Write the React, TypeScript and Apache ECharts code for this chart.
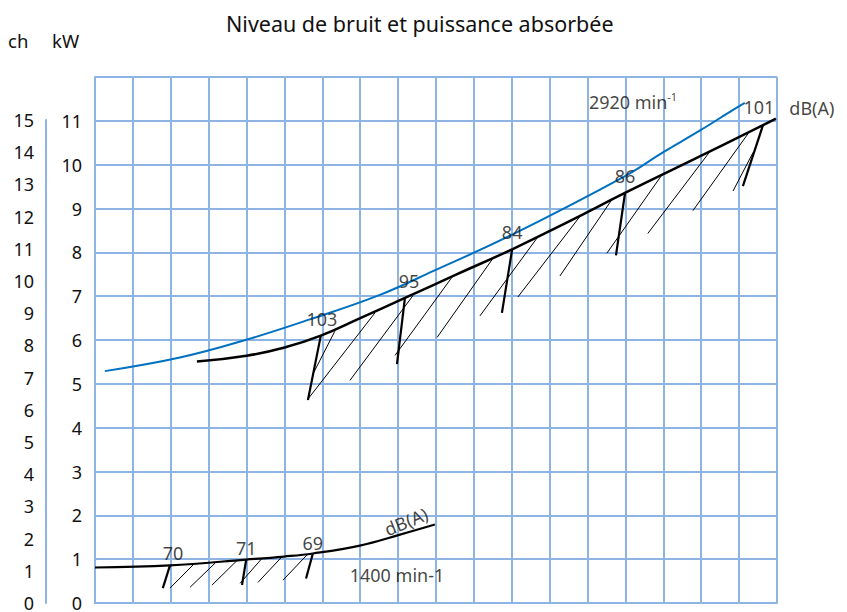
import React, { useEffect, useRef } from "react";
import * as echarts from "echarts";

const TITLE = "Niveau de bruit et puissance absorbée";
const X_MAX = 18;
const KW_MAX = 12;
const CH_MAX = 15;
const FONT = "'Noto Sans', 'Open Sans', sans-serif";
const GRID_COLOR = "#8DB4E2";

// 2920 min-1 : blue curve (upper)
const blue2920: [number, number][] = [
  [0.26, 5.29], [2.24, 5.6], [4.01, 6.01], [5.67, 6.47], [7.52, 7.03], [8.92, 7.57],
  [11.0, 8.4], [13.99, 9.74], [14.99, 10.28], [15.97, 10.78], [16.84, 11.25], [17.15, 11.41],
];
// 2920 min-1 : black curve
const black2920: [number, number][] = [
  [2.69, 5.51], [4.0, 5.64], [5.0, 5.83], [5.96, 6.1], [7.0, 6.5], [8.18, 6.96], [9.5, 7.48],
  [11.01, 8.07], [12.5, 8.7], [14.0, 9.36], [15.8, 10.12], [17.63, 10.9], [17.97, 11.05],
];
// 1400 min-1 curve
const curve1400: [number, number][] = [
  [0, 0.81], [1.98, 0.86], [3.99, 0.99], [4.99, 1.06], [5.75, 1.13], [6.99, 1.31], [8.05, 1.56], [8.97, 1.79],
];

// thick marker strokes [x1, y1, x2, y2]
const markers2920: number[][] = [
  [5.96, 6.1, 5.62, 4.63],
  [8.18, 6.96, 7.97, 5.45],
  [11.01, 8.07, 10.74, 6.62],
  [13.99, 9.36, 13.75, 7.93],
  [17.63, 10.9, 17.1, 9.51],
];
const markers1400: number[][] = [
  [1.98, 0.86, 1.79, 0.34],
  [3.99, 0.99, 3.88, 0.41],
  [5.75, 1.13, 5.57, 0.56],
];
// thin hatch strokes [x1, y1, x2, y2]
const hatch2920: number[][] = [
  [5.75, 5.22, 6.33, 6.2],
  [5.6, 4.63, 7.39, 6.62],
  [6.73, 5.08, 8.39, 7.01],
  [7.92, 5.65, 9.42, 7.43],
  [9.03, 6.06, 10.5, 7.86],
  [10.16, 6.55, 11.67, 8.33],
  [11.16, 6.98, 12.8, 8.82],
  [12.27, 7.46, 13.64, 9.2],
  [13.51, 7.98, 14.99, 9.8],
  [14.59, 8.43, 16.23, 10.3],
  [15.78, 8.95, 17.23, 10.7],
  [16.84, 9.4, 17.37, 10.28],
];
const hatch1400: number[][] = [
  [1.98, 0.34, 2.59, 0.87],
  [2.51, 0.36, 3.17, 0.91],
  [3.09, 0.41, 3.75, 0.97],
  [3.83, 0.45, 4.41, 1.02],
  [4.3, 0.47, 4.94, 1.06],
  [4.96, 0.52, 5.62, 1.12],
];

// annotation texts and positions (x, kW)
const dbTexts = ["103", "95", "84", "86", "101", "dB(A)", "70", "71", "69", "1400 min-1"];
const dbPositions: [number, number][] = [
  [5.99, 6.49], [8.29, 7.34], [11.01, 8.47], [13.99, 9.74], [17.52, 11.32], [18.92, 11.3],
  [2.06, 1.13], [3.99, 1.26], [5.75, 1.36], [7.97, 0.63],
];
const rotatedText = "dB(A)";
const rotatedPos: [number, number] = [8.21, 1.86];
const speedMain = "2920 min";
const speedSup = "-1";
const speedPos: [number, number] = [14.2, 11.43];

const segs = (arr: number[][]) =>
  arr.map((s) => ({ coords: [[s[0], s[1]], [s[2], s[3]]] }));

export default function App() {
  const ref = useRef<HTMLDivElement>(null);
  useEffect(() => {
    if (!ref.current) return;
    const chart = echarts.init(ref.current, null, { renderer: "svg" });
    const labelBase = {
      show: true,
      position: "inside",
      color: "#111",
      fontSize: 18,
      fontFamily: FONT,
      formatter: "{b}",
    };
    const option: any = {
      animation: false,
      title: {
        text: TITLE,
        left: 221,
        top: 7,
        textStyle: { fontSize: 21.5, fontWeight: "normal", color: "#111", fontFamily: FONT },
      },
      graphic: [
        { type: "text", left: 8, top: 31, style: { text: "ch", fontSize: 18.5, fill: "#111", fontFamily: FONT } },
        { type: "text", left: 52, top: 31, style: { text: "kW", fontSize: 18.5, fill: "#111", fontFamily: FONT } },
      ],
      grid: [
        { left: 95, right: 70, top: 77, bottom: 4 },
        { left: 46, width: 1, top: 120, bottom: 4 },
      ],
      xAxis: [
        {
          type: "value",
          min: 0,
          max: X_MAX,
          interval: 1,
          axisLabel: { show: false },
          axisTick: { show: false },
          axisLine: { show: true, lineStyle: { color: GRID_COLOR, width: 2 } },
          splitLine: { show: true, lineStyle: { color: GRID_COLOR, width: 2 } },
        },
        { type: "value", gridIndex: 1, show: false, min: 0, max: 1 },
      ],
      yAxis: [
        {
          type: "value",
          min: 0,
          max: KW_MAX,
          interval: 1,
          axisTick: { show: false },
          axisLine: { show: true, lineStyle: { color: GRID_COLOR, width: 2 } },
          splitLine: { show: true, lineStyle: { color: GRID_COLOR, width: 2 } },
          axisLabel: {
            color: "#111",
            fontSize: 18,
            fontFamily: FONT,
            margin: 13,
            formatter: (v: number) => (v >= KW_MAX ? "" : String(v)),
          },
        },
        {
          type: "value",
          gridIndex: 1,
          min: 0,
          max: CH_MAX,
          interval: 1,
          axisTick: { show: false },
          splitLine: { show: false },
          axisLine: { show: true, lineStyle: { color: GRID_COLOR, width: 2 } },
          axisLabel: { color: "#111", fontSize: 18, fontFamily: FONT, margin: 12 },
        },
      ],
      series: [
        {
          type: "line",
          data: blue2920,
          smooth: 0.4,
          symbol: "none",
          lineStyle: { color: "#0070C0", width: 2 },
          z: 3,
        },
        {
          type: "line",
          data: black2920,
          smooth: 0.5,
          symbol: "none",
          lineStyle: { color: "#000", width: 2.5 },
          z: 4,
        },
        {
          type: "line",
          data: curve1400,
          smooth: 0.4,
          symbol: "none",
          lineStyle: { color: "#000", width: 2.2 },
          z: 4,
        },
        {
          type: "lines",
          coordinateSystem: "cartesian2d",
          data: segs([...markers2920, ...markers1400]),
          lineStyle: { color: "#000", width: 2.2, opacity: 1 },
          z: 5,
        },
        {
          type: "lines",
          coordinateSystem: "cartesian2d",
          data: segs([...hatch2920, ...hatch1400]),
          lineStyle: { color: "#000", width: 1, opacity: 1 },
          z: 5,
        },
        {
          type: "scatter",
          symbolSize: 0,
          clip: false,
          itemStyle: { color: "transparent" },
          label: labelBase,
          data: [
            ...dbTexts.map((t, i) => ({ name: t, value: dbPositions[i] })),
            { name: rotatedText, value: rotatedPos, label: { rotate: 22 } },
            {
              name: speedMain,
              value: speedPos,
              label: {
                formatter: "{a|" + speedMain + "}{s|" + speedSup + "}",
                rich: {
                  a: { fontSize: 18, fontFamily: FONT, color: "#111", lineHeight: 22 },
                  s: { fontSize: 11, fontFamily: FONT, color: "#111", verticalAlign: "top", lineHeight: 22, padding: [0, 0, 10, 0] },
                },
              },
            },
          ],
          z: 6,
        },
      ],
    };
    chart.setOption(option);
    return () => chart.dispose();
  }, []);
  return (
    <div
      ref={ref}
      style={{ position: "fixed", left: 0, top: 0, width: 847, height: 612, background: "#fff" }}
    />
  );
}
